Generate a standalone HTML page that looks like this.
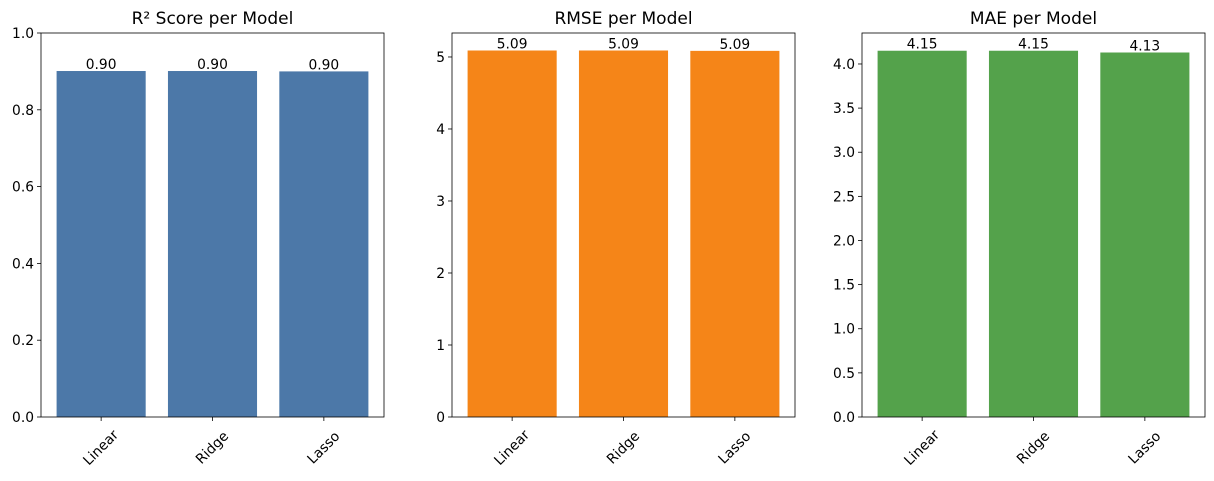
<!DOCTYPE html>
<html><head><meta charset="utf-8"><style>
body{margin:0;background:#fff;font-family:"DejaVu Sans","Liberation Sans",sans-serif;}
text{font-family:"DejaVu Sans","Liberation Sans",sans-serif;}
</style></head><body>
<svg id="chart" width="1214" height="477" xmlns="http://www.w3.org/2000/svg"></svg>
<script>
const categories = ["Linear","Ridge","Lasso"];
const r2Values = [0.901, 0.901, 0.900];
const rmseValues = [5.09, 5.09, 5.085];
const maeValues = [4.15, 4.15, 4.13];
const r2Labels = ["0.90","0.90","0.90"];
const rmseLabels = ["5.09","5.09","5.09"];
const maeLabels = ["4.15","4.15","4.13"];
const r2Ticks = [0,0.2,0.4,0.6,0.8,1.0];
const r2TickLabels = ["0.0","0.2","0.4","0.6","0.8","1.0"];
const rmseTicks = [0,1,2,3,4,5];
const rmseTickLabels = ["0","1","2","3","4","5"];
const maeTicks = [0,0.5,1,1.5,2,2.5,3,3.5,4];
const maeTickLabels = ["0.0","0.5","1.0","1.5","2.0","2.5","3.0","3.5","4.0"];

const NS="http://www.w3.org/2000/svg";
const svg=document.getElementById('chart');
function mk(tag,attrs,parent){const e=document.createElementNS(NS,tag);for(const k in attrs)e.setAttribute(k,attrs[k]);(parent||svg).appendChild(e);return e;}
const FS=13.8;
function panel(cfg){
  const L=cfg.left,R=cfg.left+343,T=33,B=417;
  const g=mk('g',{});
  
  
  const x=v=>L+(v+0.54)/3.08*(R-L);
  const y=v=>B-v/cfg.ymax*(B-T);
  cfg.values.forEach((v,i)=>{
    const r=mk('rect',{x:x(i-0.4),y:y(v),width:x(0.4)-x(-0.4),height:B-y(v),fill:cfg.color},g);
    
    
    const t=mk('text',{x:x(i),y:y(v)-2,'font-size':FS,'text-anchor':'middle',fill:'#000'},g);
    t.textContent=cfg.labels[i];
    
    
    mk('line',{x1:x(i),x2:x(i),y1:B,y2:B+4,stroke:'#000','stroke-width':0.8},g);
    const xl=mk('text',{transform:`translate(${x(i)},${B+31}) rotate(-45)`,'font-size':FS,'text-anchor':'middle','dominant-baseline':'central',fill:'#000'},g);
    xl.textContent=categories[i];
    
    
  });
  cfg.ticks.forEach((v,i)=>{
    mk('line',{x1:L-4,x2:L,y1:y(v),y2:y(v),stroke:'#000','stroke-width':0.8},g);
    const t=mk('text',{x:L-7,y:y(v)+5,'font-size':FS,'text-anchor':'end',fill:'#000'},g);
    t.textContent=cfg.tickLabels[i];
    
    
  });
  const fr=mk('rect',{x:L,y:T,width:R-L,height:B-T,fill:'none',stroke:'#000','stroke-width':0.8},g);
  
  
  const tt=mk('text',{x:(L+R)/2,y:T-9,'font-size':'17','text-anchor':'middle',fill:'#000'},g);
  tt.textContent=cfg.title;
  
  
}
panel({name:'r2-panel',left:41,values:r2Values,labels:r2Labels,ymax:1.0,ticks:r2Ticks,tickLabels:r2TickLabels,color:'#4c78a8',title:'R² Score per Model'});
panel({name:'rmse-panel',left:452,values:rmseValues,labels:rmseLabels,ymax:5.333,ticks:rmseTicks,tickLabels:rmseTickLabels,color:'#f58518',title:'RMSE per Model'});
panel({name:'mae-panel',left:862,values:maeValues,labels:maeLabels,ymax:4.351,ticks:maeTicks,tickLabels:maeTickLabels,color:'#54a24b',title:'MAE per Model'});
</script>
</body></html>
